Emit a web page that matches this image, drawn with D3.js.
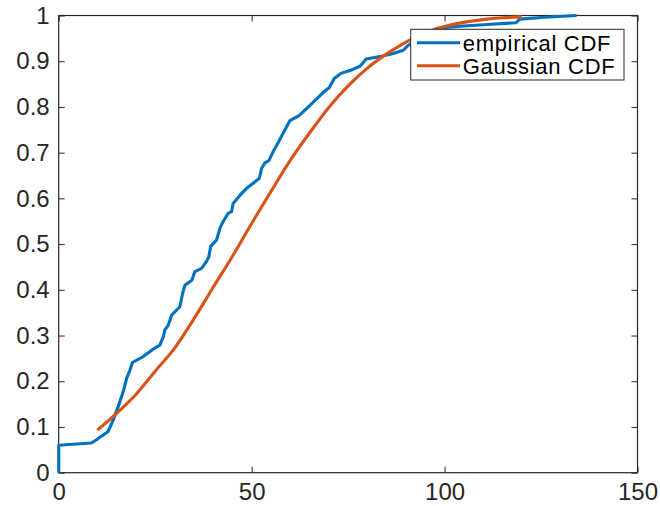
<!DOCTYPE html>
<html>
<head>
<meta charset="utf-8">
<script src="https://cdn.jsdelivr.net/npm/d3@7"></script>
<style>
  html, body { margin: 0; padding: 0; background: #fff; }
  svg { display: block; font-family: "Liberation Sans", Arial, sans-serif; }
</style>
</head>
<body>
<svg id="chart" width="660" height="506"></svg>
<script>
// --- data ---
const empX = [0, 0, 8.5, 9.8, 12.8, 14.1, 15.4, 16.7, 17.6, 18.5, 19.1, 21.9, 24.1, 26.2, 27.1, 27.5, 28.4, 29.3, 31.4, 32.1, 32.7, 34.5, 35.3, 37.0, 38.3, 38.9, 39.4, 40.9, 41.8, 42.6, 43.9, 44.8, 45.2, 47.0, 48.7, 50.4, 52.0, 52.6, 53.4, 54.5, 55.8, 57.0, 58.0, 59.9, 62.3, 64.9, 68.6, 70.1, 71.4, 73.3, 75.9, 78.1, 79.7, 83.2, 86.7, 89.3, 90.6, 92, 95, 98, 105, 112, 118.5, 119.5, 126, 134.2];
const empY = [0, 0.06, 0.065, 0.072, 0.09, 0.115, 0.144, 0.177, 0.206, 0.225, 0.241, 0.254, 0.268, 0.279, 0.297, 0.312, 0.323, 0.345, 0.363, 0.392, 0.41, 0.421, 0.44, 0.447, 0.462, 0.472, 0.495, 0.509, 0.535, 0.549, 0.567, 0.571, 0.589, 0.607, 0.622, 0.633, 0.644, 0.666, 0.677, 0.683, 0.706, 0.724, 0.74, 0.77, 0.781, 0.802, 0.832, 0.842, 0.862, 0.874, 0.881, 0.889, 0.905, 0.91, 0.917, 0.924, 0.935, 0.942, 0.958, 0.972, 0.977, 0.981, 0.984, 0.992, 0.996, 1.0];

const gaussX = [10, 15, 20, 25, 30, 35, 40, 45, 50, 55, 60, 65, 70, 75, 80, 85, 90, 95, 100, 105, 110, 115, 120];
const gaussY = [0.093, 0.13, 0.171, 0.222, 0.272, 0.336, 0.405, 0.473, 0.545, 0.615, 0.683, 0.743, 0.799, 0.846, 0.885, 0.916, 0.942, 0.962, 0.976, 0.985, 0.991, 0.995, 0.997];

const xTicks = [0, 50, 100, 150];
const yTicks = [0, 0.1, 0.2, 0.3, 0.4, 0.5, 0.6, 0.7, 0.8, 0.9, 1];
const seriesNames = ['empirical CDF', 'Gaussian CDF'];
const seriesColors = ['#0072BD', '#D95319'];

// --- layout ---
const L = 58.7, R = 637.5, T = 15.5, B = 472.7;
const axisColor = '#262626';
const lineW = 3.1;

const svg = d3.select('#chart');
const x = d3.scaleLinear().domain([0, 150]).range([L, R]);
const y = d3.scaleLinear().domain([0, 1]).range([B, T]);

const tickFmt = d => d3.format('')(d);

function styleAxis(g) {
    g.selectAll('path.domain').remove();
    g.selectAll('line').attr('stroke', axisColor).attr('stroke-width', 1);
    g.selectAll('text')
        .attr('fill', axisColor)
        .style('font-size', '24px');
}

// bottom axis with labels
svg.append('g').attr('transform', `translate(0,${B})`)
    .call(d3.axisBottom(x).tickValues(xTicks).tickFormat(tickFmt).tickSizeInner(-6).tickSizeOuter(0).tickPadding(9))
    .call(styleAxis)
    .selectAll('text').attr('dy', '0.78em');

// left axis with labels
svg.append('g').attr('transform', `translate(${L},0)`)
    .call(d3.axisLeft(y).tickValues(yTicks).tickFormat(tickFmt).tickSizeInner(-6).tickSizeOuter(0).tickPadding(9))
    .call(styleAxis);

// top and right ticks only
svg.append('g').attr('transform', `translate(0,${T})`)
    .call(d3.axisTop(x).tickValues(xTicks).tickFormat('').tickSizeInner(-6).tickSizeOuter(0))
    .call(styleAxis);
svg.append('g').attr('transform', `translate(${R},0)`)
    .call(d3.axisRight(y).tickValues(yTicks).tickFormat('').tickSizeInner(-6).tickSizeOuter(0))
    .call(styleAxis);

// box
svg.append('rect')
    .attr('x', L).attr('y', T).attr('width', R - L).attr('height', B - T)
    .attr('fill', 'none').attr('stroke', axisColor).attr('stroke-width', 1.2);

// lines
const emp = empX.map((v, i) => [v, empY[i]]);
const gauss = gaussX.map((v, i) => [v, gaussY[i]]);

svg.append('path')
    .datum(emp)
    .attr('fill', 'none')
    .attr('stroke', seriesColors[0])
    .attr('stroke-width', lineW)
    .attr('stroke-linejoin', 'round')
    .attr('d', d3.line().x(d => x(d[0])).y(d => y(d[1])));

svg.append('path')
    .datum(gauss)
    .attr('fill', 'none')
    .attr('stroke', seriesColors[1])
    .attr('stroke-width', lineW)
    .attr('d', d3.line().x(d => x(d[0])).y(d => y(d[1])).curve(d3.curveMonotoneX));

// legend
const lg = svg.append('g').attr('transform', 'translate(410.7,29.3)');
lg.append('rect')
    .attr('width', 213.3).attr('height', 50.7)
    .attr('fill', '#fff').attr('stroke', axisColor).attr('stroke-width', 1);

seriesNames.forEach((name, i) => {
    const cy = 13.4 + i * 23;
    lg.append('line')
        .attr('x1', 6.3).attr('x2', 49.3).attr('y1', cy).attr('y2', cy)
        .attr('stroke', seriesColors[i]).attr('stroke-width', lineW);
    lg.append('text')
        .attr('x', 52).attr('y', cy)
        .attr('dy', '0.36em')
        .attr('fill', '#000')
        .style('font-size', '22px')
        .style('letter-spacing', '0.7px')
        .text(name);
});
</script>
</body>
</html>
